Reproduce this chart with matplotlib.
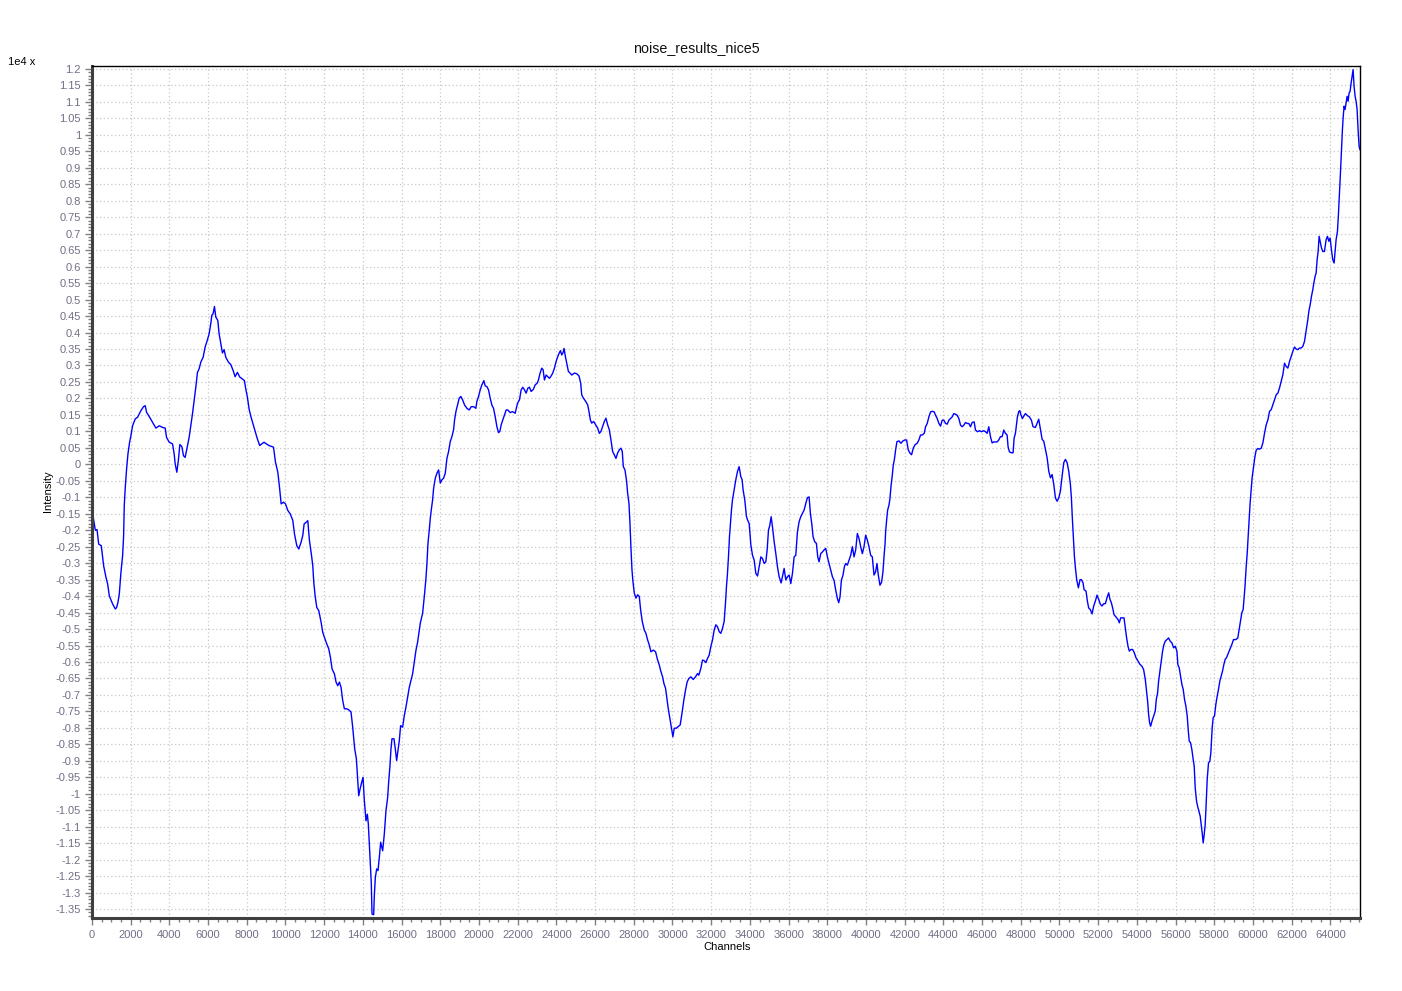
import numpy as np
import matplotlib
matplotlib.use("Agg")
import matplotlib.pyplot as plt
from matplotlib.ticker import FixedLocator, MultipleLocator

title = "noise_results_nice5"
x_label = "Channels"
y_label = "Intensity"
scale_label = "1e4 x"

# channels (x) and intensity (in units of 1e4)
channels = [
    34, 172, 260, 344, 480, 602, 722, 808, 894, 1066, 1204, 1270, 1341, 1410, 1496, 1582, 1634, 1668, 1720, 1788,
    1857, 1943, 2012, 2098, 2236, 2356, 2442, 2528, 2665, 2751, 2820, 2958, 3096, 3233, 3302, 3474, 3646, 3783,
    3852, 3990, 4162, 4248, 4299, 4385, 4471, 4540, 4643, 4729, 4815, 4901, 5021, 5107, 5193, 5279, 5365, 5451,
    5537, 5623, 5743, 5847, 5967, 6053, 6139, 6191, 6260, 6329, 6398, 6501, 6570, 6673, 6742, 6828, 6914, 7052,
    7172, 7292, 7396, 7516, 7636, 7774, 7877, 7946, 8032, 8118, 8221, 8324, 8427, 8548, 8668, 8771, 8892, 9012,
    9150,
    9381, 9484, 9604, 9690, 9776, 9897, 10000, 10120, 10241, 10378, 10464, 10585, 10688, 10808, 10894, 10963,
    11066, 11152, 11238, 11324, 11410, 11462, 11530, 11616, 11720, 11840, 11926, 12012, 12133, 12236, 12322,
    12408, 12528, 12614, 12700, 12786, 12872, 12958, 13044, 13165, 13268, 13388, 13474, 13578, 13664, 13732,
    13784, 13853, 13939, 14008, 14076, 14162, 14231, 14282, 14334, 14386, 14437, 14472, 14558, 14592, 14644,
    14713, 14782, 14850, 14919, 15022, 15108, 15194, 15280, 15332, 15401, 15452, 15504, 15607, 15676, 15745,
    15814, 15882, 15951, 16054, 16140, 16226, 16312, 16398, 16484, 16570, 16656, 16742, 16828,
    16968, 17088, 17192, 17260, 17312, 17364, 17432, 17484, 17536, 17604, 17656, 17742, 17828, 17914, 18000,
    18086, 18172, 18258, 18344, 18430, 18516, 18602, 18688, 18740, 18808, 18894, 18980, 19066, 19152, 19256,
    19376, 19496, 19600, 19720, 19840, 19892, 19978, 20064, 20150, 20253, 20322, 20408, 20494, 20580, 20666,
    20752, 20838, 20924, 21010, 21079, 21148, 21234, 21320, 21406, 21492, 21612, 21732, 21870, 21990, 22094,
    22180, 22266, 22352, 22438, 22524, 22610, 22696, 22816, 22902, 23005, 23074, 23160, 23246, 23315, 23384,
    23470, 23556, 23642, 23728, 23814, 23900, 23986, 24072, 24141, 24210, 24278, 24347, 24398, 24467, 24553,
    24622, 24708, 24794, 24932, 25052, 25172, 25258, 25310, 25396, 25516, 25620, 25688, 25756, 25826, 25928,
    26032, 26134, 26220, 26306, 26392, 26478, 26564, 26650, 26736, 26822, 26908, 26994, 27080, 27166, 27252,
    27338, 27406, 27460, 27546, 27632, 27684, 27752, 27804, 27856, 27907, 27959, 28028, 28114, 28200, 28286,
    28355, 28440, 28544, 28630, 28716, 28802, 28888, 29008, 29128, 29232, 29318, 29404, 29490, 29558, 29644,
    29713, 29782, 29868, 29954, 30023, 30092, 30194, 30298, 30400, 30504, 30590, 30676, 30762, 30848, 30952,
    31072, 31192, 31296, 31364, 31468, 31554, 31640, 31726, 31812, 31898, 31984, 32070, 32156, 32242, 32328,
    32414, 32500, 32586, 32672, 32740, 32792, 32844, 32896, 32948, 32999, 33051, 33102, 33188, 33274, 33360,
    33446, 33532, 33601, 33652, 33738, 33824, 33876,
    33966, 34052, 34138, 34224, 34310, 34396, 34482, 34568, 34654, 34740, 34826, 34894, 34963, 35032, 35101,
    35170, 35256, 35342, 35428, 35514, 35617, 35686, 35772, 35858, 35944, 36030, 36116, 36202, 36288, 36374,
    36460, 36546, 36632, 36718, 36804, 36890, 36976, 37062, 37130, 37199, 37268, 37354, 37440, 37509, 37578,
    37664, 37750, 37836, 37922, 38008, 38094, 38180, 38266, 38352, 38438, 38524, 38593, 38662, 38730, 38816,
    38885, 38954, 39040, 39126, 39212, 39298, 39384, 39470, 39556, 39642, 39728, 39814, 39900, 39986, 40072,
    40158, 40244, 40330, 40416, 40502, 40570, 40639, 40725, 40811, 40880, 40932, 40984, 41018, 41070, 41121,
    41190, 41242, 41293, 41362, 41414, 41466, 41534, 41603, 41706, 41809, 41912, 42015, 42101, 42187, 42273,
    42359, 42445, 42531, 42651, 42737, 42823, 42909, 43013, 43081, 43167, 43253, 43339, 43426, 43529, 43598,
    43684, 43770, 43856, 43942, 44028, 44114, 44200, 44286, 44372, 44458, 44544, 44630, 44716, 44802, 44888,
    44974, 45060, 45146, 45232, 45318, 45404, 45490, 45593, 45662, 45765, 45868, 45971, 46092, 46178, 46264,
    46350, 46436, 46522, 46608, 46694, 46780, 46866, 46952, 47038, 47124, 47210, 47296, 47347, 47416, 47519,
    47605, 47657, 47726, 47777, 47829, 47898, 47950, 48018, 48087, 48156, 48242, 48345, 48448, 48552, 48638,
    48758, 48844, 48930,
    49020, 49106, 49192, 49278, 49364, 49450, 49536, 49622, 49708, 49794, 49880, 49966, 50052, 50138, 50224,
    50310, 50396, 50482, 50568, 50619, 50671, 50722, 50774, 50826, 50894, 50980, 51066, 51135, 51221, 51272,
    51376, 51444, 51513, 51599, 51686, 51772, 51858, 51944, 52030, 52116, 52202, 52288, 52374, 52460, 52546,
    52614, 52683, 52752, 52821, 52890, 52958, 53027, 53096, 53165, 53268, 53337, 53406, 53474, 53543, 53612,
    53698, 53784, 53870, 53956, 54059, 54162, 54266, 54352, 54438, 54506, 54558, 54610, 54662, 54713, 54782,
    54868, 54954, 55006, 55074, 55126, 55194, 55263, 55332, 55401, 55470, 55556, 55642, 55728, 55814, 55900,
    55986, 56072, 56123, 56192, 56261, 56330, 56398, 56467, 56536, 56605, 56656, 56708, 56777, 56846, 56914,
    56966, 57018, 57086, 57138, 57207, 57276, 57327, 57379, 57430, 57482, 57534, 57586, 57637, 57706, 57774,
    57826, 57860, 57895, 57946, 58015, 58084, 58153, 58222, 58290, 58359, 58428, 58497, 58566, 58634, 58703,
    58772, 58841, 58910, 58996, 59116, 59219, 59288, 59357, 59426, 59494, 59546, 59598, 59649, 59701, 59752,
    59804, 59856, 59907, 59959, 60028, 60096, 60165, 60251,
    60344, 60430, 60516, 60602, 60688, 60774, 60860, 60946, 61032, 61118, 61204, 61290, 61376, 61462, 61548,
    61634, 61720, 61806, 61892, 61978, 62064, 62150, 62236, 62322, 62408, 62494, 62580, 62666, 62718, 62786,
    62838, 62890, 62958, 63027, 63096, 63148, 63216, 63268, 63320, 63371, 63423, 63474, 63543, 63612, 63698,
    63784, 63853, 63922, 63990, 64059, 64128, 64197, 64248, 64300, 64369, 64420, 64472, 64524, 64576, 64627,
    64662, 64713, 64765, 64816, 64868, 64920, 64971, 65023, 65075, 65126, 65178, 65230, 65282, 65333, 65385,
    65436, 65488, 65535,
]

intensity = [
    -0.150, -0.200, -0.198, -0.242, -0.247, -0.308, -0.343, -0.363, -0.399, -0.424, -0.439, -0.435, -0.419, -0.394,
    -0.328, -0.277, -0.217, -0.125, -0.070, -0.014, 0.031, 0.067, 0.087, 0.117, 0.138, 0.143, 0.153, 0.163, 0.175,
    0.178, 0.158, 0.145, 0.131, 0.117, 0.110, 0.117, 0.112, 0.110, 0.082, 0.067, 0.062, 0.031, 0.001, -0.024,
    0.016, 0.060, 0.054, 0.026, 0.021, 0.047, 0.082, 0.117, 0.153, 0.193, 0.234, 0.279, 0.290, 0.310, 0.325,
    0.356, 0.378, 0.396, 0.427, 0.452, 0.457, 0.479, 0.447, 0.437, 0.396, 0.361, 0.338, 0.348, 0.325, 0.310,
    0.303, 0.285, 0.266, 0.279, 0.265, 0.259, 0.254, 0.229, 0.204, 0.168, 0.143, 0.122, 0.102, 0.077, 0.057,
    0.062, 0.067, 0.062, 0.057,
    0.052, 0.006, -0.024, -0.069, -0.120, -0.115, -0.120, -0.140, -0.150, -0.170, -0.211, -0.247, -0.257, -0.236,
    -0.216, -0.181, -0.176, -0.171, -0.231, -0.267, -0.307, -0.358, -0.398, -0.434, -0.444, -0.479, -0.510,
    -0.525, -0.545, -0.560, -0.586, -0.621, -0.636, -0.661, -0.672, -0.661, -0.677, -0.717, -0.742, -0.742,
    -0.745, -0.752, -0.798, -0.864, -0.894, -0.955, -1.006, -0.986, -0.965, -0.950, -1.021, -1.082, -1.062,
    -1.092, -1.152, -1.208, -1.274, -1.365, -1.367, -1.309, -1.254, -1.228, -1.233, -1.193, -1.147, -1.173,
    -1.122, -1.051, -1.011, -0.965, -0.914, -0.864, -0.833, -0.833, -0.864, -0.899, -0.869, -0.839, -0.793,
    -0.798, -0.763, -0.737, -0.707, -0.677, -0.656, -0.636, -0.601, -0.565, -0.540,
    -0.482, -0.452, -0.391, -0.346, -0.300, -0.240, -0.199, -0.164, -0.138, -0.108, -0.073, -0.042, -0.027,
    -0.017, -0.057, -0.047, -0.042, -0.027, 0.018, 0.039, 0.069, 0.084, 0.105, 0.135, 0.160, 0.180, 0.201,
    0.206, 0.196, 0.180, 0.170, 0.165, 0.175, 0.175, 0.170, 0.191, 0.206, 0.226, 0.241, 0.254, 0.238, 0.236,
    0.226, 0.201, 0.180, 0.170, 0.145, 0.115, 0.096, 0.100, 0.120, 0.135, 0.150, 0.165, 0.165, 0.157, 0.160,
    0.155, 0.185, 0.196, 0.226, 0.234, 0.226, 0.216, 0.231, 0.234, 0.221, 0.228, 0.241, 0.246, 0.256, 0.277,
    0.292, 0.287, 0.256, 0.271, 0.266, 0.261, 0.268, 0.277, 0.292, 0.312, 0.327, 0.337, 0.345, 0.332, 0.339,
    0.352, 0.327, 0.302, 0.282, 0.277, 0.271, 0.277, 0.275, 0.268, 0.246, 0.211, 0.201, 0.191, 0.180, 0.160,
    0.135, 0.125, 0.130, 0.120, 0.110, 0.094, 0.100, 0.115, 0.130, 0.140, 0.120, 0.105, 0.074, 0.039, 0.029,
    0.018, 0.034, 0.044, 0.049, 0.039, -0.007, -0.017, -0.052, -0.088, -0.118, -0.179, -0.255, -0.320, -0.356,
    -0.391, -0.406, -0.396, -0.401, -0.442, -0.477, -0.503, -0.513, -0.533, -0.548, -0.569, -0.564, -0.569,
    -0.594, -0.609, -0.629, -0.645, -0.665, -0.680, -0.710, -0.741, -0.771, -0.801, -0.827, -0.801, -0.801,
    -0.796, -0.791, -0.751, -0.715, -0.685, -0.660, -0.650, -0.645, -0.653, -0.645, -0.635, -0.640, -0.619,
    -0.594, -0.596, -0.602, -0.589, -0.579, -0.553, -0.533, -0.503, -0.487, -0.493, -0.508, -0.513, -0.498,
    -0.477, -0.422, -0.371, -0.331, -0.280, -0.219, -0.179, -0.138, -0.108, -0.078, -0.047, -0.022, -0.007,
    -0.037, -0.047, -0.078, -0.108, -0.158, -0.168,
    -0.180, -0.245, -0.276, -0.291, -0.331, -0.339, -0.311, -0.281, -0.286, -0.301, -0.296, -0.260, -0.200,
    -0.185, -0.159, -0.190, -0.235, -0.271, -0.311, -0.341, -0.360, -0.341, -0.316, -0.351, -0.341, -0.336,
    -0.362, -0.331, -0.281, -0.276, -0.205, -0.174, -0.159, -0.149, -0.139, -0.119, -0.101, -0.099, -0.149,
    -0.180, -0.220, -0.235, -0.240, -0.281, -0.296, -0.271, -0.266, -0.260, -0.255, -0.281, -0.301, -0.321,
    -0.341, -0.352, -0.382, -0.407, -0.420, -0.402, -0.352, -0.336, -0.311, -0.301, -0.306, -0.291, -0.276,
    -0.250, -0.281, -0.260, -0.210, -0.225, -0.250, -0.271, -0.250, -0.215, -0.230, -0.250, -0.276, -0.281,
    -0.336, -0.326, -0.301, -0.336, -0.367, -0.357, -0.326, -0.281, -0.245, -0.205, -0.169, -0.139, -0.124,
    -0.104, -0.068, -0.033, -0.002, 0.013, 0.044, 0.069, 0.071, 0.064, 0.071, 0.074, 0.074, 0.044, 0.034,
    0.029, 0.049, 0.059, 0.064, 0.074, 0.089, 0.089, 0.094, 0.114, 0.124, 0.144, 0.159, 0.161, 0.159, 0.149,
    0.139, 0.124, 0.116, 0.134, 0.134, 0.124, 0.122, 0.134, 0.139, 0.144, 0.154, 0.152, 0.149, 0.139, 0.119,
    0.114, 0.119, 0.127, 0.124, 0.124, 0.114, 0.127, 0.129, 0.104, 0.099, 0.102, 0.099, 0.102, 0.099, 0.094,
    0.114, 0.084, 0.065, 0.068, 0.068, 0.068, 0.074, 0.084, 0.084, 0.104, 0.094, 0.089, 0.053, 0.038, 0.035,
    0.035, 0.079, 0.094, 0.119, 0.144, 0.160, 0.163, 0.149, 0.139, 0.146, 0.154, 0.148, 0.144, 0.134, 0.114,
    0.112, 0.124, 0.137,
    0.106, 0.076, 0.070, 0.045, 0.020, -0.021, -0.041, -0.031, -0.061, -0.102, -0.112, -0.102, -0.081, -0.036,
    0.005, 0.015, 0.005, -0.021, -0.061, -0.102, -0.167, -0.223, -0.279, -0.314, -0.350, -0.375, -0.350, -0.350,
    -0.360, -0.380, -0.385, -0.415, -0.436, -0.441, -0.454, -0.430, -0.415, -0.397, -0.410, -0.425, -0.430,
    -0.423, -0.423, -0.405, -0.390, -0.410, -0.420, -0.436, -0.456, -0.461, -0.466, -0.471, -0.481, -0.466,
    -0.466, -0.466, -0.496, -0.527, -0.552, -0.567, -0.562, -0.562, -0.572, -0.587, -0.597, -0.607, -0.613,
    -0.623, -0.653, -0.689, -0.719, -0.759, -0.785, -0.795, -0.780, -0.765, -0.749, -0.714, -0.694, -0.658,
    -0.628, -0.597, -0.567, -0.547, -0.537, -0.532, -0.527, -0.537, -0.542, -0.557, -0.552, -0.567, -0.608,
    -0.618, -0.643, -0.668, -0.683, -0.714, -0.734, -0.764, -0.805, -0.840, -0.845, -0.866, -0.896, -0.916,
    -0.982, -1.022, -1.037, -1.053, -1.068, -1.093, -1.119, -1.149, -1.124, -1.093, -1.028, -0.957, -0.906,
    -0.901, -0.876, -0.840, -0.800, -0.769, -0.764, -0.729, -0.704, -0.683, -0.658, -0.643, -0.628, -0.608,
    -0.592, -0.587, -0.577, -0.567, -0.557, -0.547, -0.532, -0.532, -0.527, -0.501, -0.476, -0.451, -0.441,
    -0.405, -0.365, -0.314, -0.274, -0.223, -0.167, -0.117, -0.081, -0.041, -0.010, 0.020, 0.042, 0.048,
    0.046, 0.049, 0.065, 0.095, 0.120, 0.135, 0.161, 0.166, 0.181, 0.196, 0.211, 0.216, 0.232, 0.252, 0.272,
    0.307, 0.297, 0.292, 0.312, 0.328, 0.343, 0.356, 0.350, 0.348, 0.353, 0.353, 0.358, 0.373, 0.393, 0.419,
    0.439, 0.464, 0.484, 0.510, 0.530, 0.550, 0.571, 0.581, 0.621, 0.646, 0.692, 0.677, 0.657, 0.646, 0.646,
    0.682, 0.692, 0.677, 0.687, 0.651, 0.621, 0.611, 0.646, 0.682, 0.707, 0.758, 0.818, 0.884, 0.950, 1.016,
    1.051, 1.087, 1.077, 1.097, 1.117, 1.102, 1.127, 1.132, 1.157, 1.178, 1.198, 1.147, 1.117, 1.102, 1.077,
    1.016, 0.965, 0.955,
]

x_ticks = list(range(0, 64001, 2000))
y_ticks = [round(v, 2) for v in np.arange(-1.35, 1.2001, 0.05)]
y_tick_labels = [f"{v:g}" if abs(v) > 1e-9 else "0" for v in y_ticks]

W, H = 1402, 991
fig = plt.figure(figsize=(W / 100, H / 100), dpi=100)
fig.patch.set_facecolor("white")
ax = fig.add_axes([92 / W, (H - 918) / H, (1360 - 92) / W, (918 - 66) / H])

ax.plot(channels, intensity, color="#0000ff", linewidth=1.0)

ax.set_xlim(0, 65535)
ax.set_ylim(-1.377, 1.209)

tick_color = "#707086"
font = "Liberation Sans"
ax.xaxis.set_major_locator(FixedLocator(x_ticks))
ax.set_xticklabels([str(t) for t in x_ticks], fontsize=8, color=tick_color, family=font)
ax.xaxis.set_minor_locator(MultipleLocator(500))
ax.yaxis.set_major_locator(FixedLocator(y_ticks))
ax.set_yticklabels(y_tick_labels, fontsize=8, color=tick_color, family=font)
ax.yaxis.set_minor_locator(MultipleLocator(0.01))

ax.tick_params(axis="both", which="major", length=5, width=1, color="#808080", direction="out")
ax.tick_params(axis="both", which="minor", length=3, width=1, color="#808080", direction="out")
ax.tick_params(axis="x", which="major", pad=4)
ax.tick_params(axis="y", which="major", pad=3)

ax.grid(True, which="major", color="#c8c8c8", linestyle=(0, (1, 2)), linewidth=0.9)
ax.set_axisbelow(True)

for side in ("left", "bottom"):
    ax.spines[side].set_linewidth(2.2)
    ax.spines[side].set_color("#404040")
for side in ("top", "right"):
    ax.spines[side].set_linewidth(1.0)
    ax.spines[side].set_color("#000000")

fig.text(696 / W, 1 - 48 / H, title, ha="center", va="center", fontsize=10.3, family=font, color="#101010")
fig.text(727 / W, 1 - 947 / H, x_label, ha="center", va="center", fontsize=8, family=font, color="#000000")
fig.text(48 / W, 1 - 491 / H, y_label, ha="center", va="center", rotation=90, fontsize=8, family=font, color="#000000")
fig.text(8 / W, 1 - 62 / H, scale_label, ha="left", va="center", fontsize=8, family=font, color="#000000")

fig.savefig("out.png", dpi=100)
